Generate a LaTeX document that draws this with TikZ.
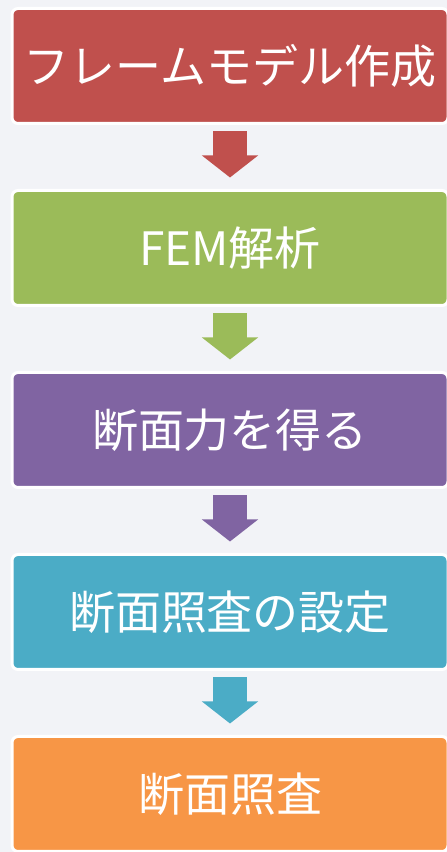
\documentclass[tikz,border=0pt]{standalone}
\usepackage{fontspec}
\setmainfont{Noto Sans CJK JP}
\usetikzlibrary{arrows.meta,calc}
\definecolor{bg}{HTML}{F2F3F7}
\definecolor{cred}{HTML}{C0504D}
\definecolor{cgreen}{HTML}{9BBB59}
\definecolor{cpurple}{HTML}{8064A2}
\definecolor{cblue}{HTML}{4BACC6}
\definecolor{corange}{HTML}{F79646}
\tikzset{
  stepbox/.style={draw=white, line width=3pt, rounded corners=6pt,
    minimum width=436pt, minimum height=115pt, inner sep=0pt, outer sep=0pt,
    text=white, font=\fontsize{46}{52}\selectfont},
  blockarrow/.style={line width=34pt, -{Triangle[width=55pt,length=22pt]}},
}
\begin{document}
\begin{tikzpicture}[x=1pt,y=1pt]
\useasboundingbox (0,0) rectangle (447,852);
\clip (0,0) rectangle (447,852);
\fill[bg] (0,0) rectangle (447,852);
\node[stepbox, fill=cred]    (b1) at (230,786) {フレームモデル作成};
\node[stepbox, fill=cgreen]  (b2) at (230,604) {FEM解析};
\node[stepbox, fill=cpurple] (b3) at (230,422) {断面力を得る};
\node[stepbox, fill=cblue]   (b4) at (230,240) {断面照査の設定};
\node[stepbox, fill=corange] (b5) at (230,58)  {断面照査};
\draw[blockarrow, cred]    ($(b1.south)+(0,-8)$) -- ($(b2.north)+(0,13)$);
\draw[blockarrow, cgreen]  ($(b2.south)+(0,-8)$) -- ($(b3.north)+(0,13)$);
\draw[blockarrow, cpurple] ($(b3.south)+(0,-8)$) -- ($(b4.north)+(0,13)$);
\draw[blockarrow, cblue]   ($(b4.south)+(0,-8)$) -- ($(b5.north)+(0,13)$);
\end{tikzpicture}
\end{document}
